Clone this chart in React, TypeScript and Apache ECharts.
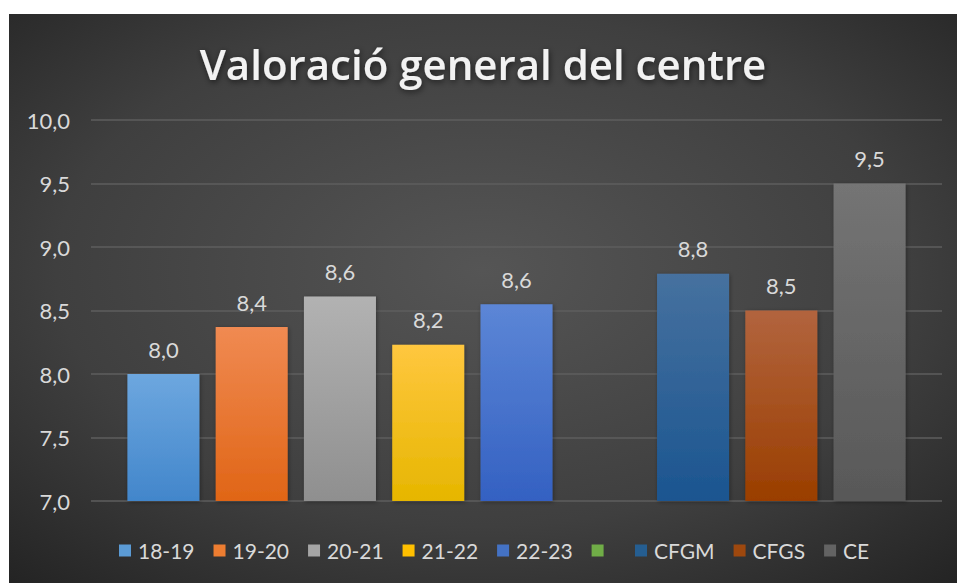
import React, { useEffect, useRef } from "react";
import * as echarts from "echarts";

const titleText = "Valoració general del centre";
const seriesNames = ["18-19", "19-20", "20-21", "21-22", "22-23", " ", "CFGM", "CFGS", "CE"];
const seriesValues: (number | null)[] = [8.0, 8.37, 8.61, 8.23, 8.55, null, 8.79, 8.5, 9.5];
const legendColors = ["#5B9BD5", "#ED7D31", "#A5A5A5", "#FFC000", "#4472C4", "#70AD47", "#255E91", "#9E480E", "#636363"];
const topColors = ["#6DA7DF", "#F08A52", "#B2B2B2", "#FFC73F", "#5C86D6", "#8CC168", "#46719F", "#B2643E", "#747474"];
const bottomColors = ["#4286CB", "#E06516", "#8F8F8F", "#E6B600", "#3461C2", "#5E9A36", "#1B5590", "#9A3E00", "#585858"];
const yMin = 7;
const yMax = 10;
const yInterval = 0.5;

const fmt = (v: number) => v.toFixed(1).replace(".", ",");

export default function App() {
  const ref = useRef<HTMLDivElement>(null);
  useEffect(() => {
    if (!ref.current) return;
    const chart = echarts.init(ref.current, undefined, { renderer: "svg" });
    const font = "Lato, 'Open Sans', sans-serif";
    chart.setOption({
      animation: false,
      backgroundColor: {
        type: "radial",
        x: 0.5,
        y: 0.45,
        r: 0.75,
        colorStops: [
          { offset: 0, color: "#555555" },
          { offset: 0.6, color: "#3f3f3f" },
          { offset: 1, color: "#232323" },
        ],
      },
      title: {
        text: titleText,
        left: "center",
        top: 23,
        textStyle: {
          color: "#f2f2f2",
          fontFamily: "'Open Sans', sans-serif",
          fontWeight: 600,
          fontSize: 42,
          textShadowColor: "rgba(0,0,0,0.6)",
          textShadowBlur: 6,
          textShadowOffsetX: 1,
          textShadowOffsetY: 2,
        },
      },
      legend: {
        bottom: 17,
        left: 105,
        itemWidth: 12,
        itemHeight: 12,
        itemGap: 19,
        icon: "rect",
        textStyle: { color: "#d9d9d9", fontFamily: font, fontSize: 21, padding: [0, 0, 0, 2] },
        data: seriesNames.map((n, i) => ({ name: n, itemStyle: { color: legendColors[i] } })),
      },
      grid: { left: 82, right: 15, top: 106, bottom: 82, containLabel: false },
      xAxis: {
        type: "category",
        data: [""],
        axisLine: { show: false },
        axisTick: { show: false },
        axisLabel: { show: false },
      },
      yAxis: {
        type: "value",
        min: yMin,
        max: yMax,
        interval: yInterval,
        axisLine: { show: false },
        axisTick: { show: false },
        axisLabel: {
          color: "#d9d9d9",
          fontFamily: font,
          fontSize: 22,
          margin: 21,
          formatter: (v: number) => fmt(v),
        },
        splitLine: { lineStyle: { color: "#5e5e5e", width: 1.5 } },
      },
      series: seriesNames.map((n, i) => ({
        name: n,
        type: "bar",
        barWidth: 72,
        barGap: "22.6%",
        data: [seriesValues[i] == null ? "-" : seriesValues[i]],
        itemStyle: {
          color: {
            type: "linear",
            x: 0,
            y: 0,
            x2: 0,
            y2: 1,
            colorStops: [
              { offset: 0, color: topColors[i] },
              { offset: 1, color: bottomColors[i] },
            ],
          },
          shadowColor: "rgba(0,0,0,0.35)",
          shadowBlur: 4,
          shadowOffsetX: 1,
          shadowOffsetY: 1,
        },
        label: {
          show: seriesValues[i] != null,
          position: "top",
          distance: 14,
          color: "#d9d9d9",
          fontFamily: font,
          fontSize: 22,
          formatter: (p: any) => fmt(p.value),
        },
      })),
    });
    return () => chart.dispose();
  }, []);
  return (
    <div style={{ position: "absolute", left: 0, top: 0, width: 958, height: 583, background: "#fff" }}>
      <div ref={ref} style={{ position: "absolute", left: 9, top: 14, width: 948, height: 569 }} />
    </div>
  );
}
